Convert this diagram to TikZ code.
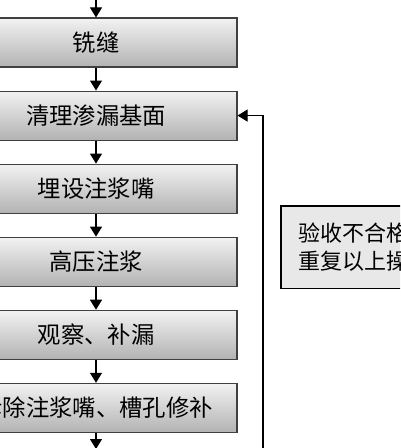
\documentclass[tikz,border=0pt]{standalone}
\usepackage{fontspec}
\newfontfamily\cjk{Noto Sans CJK SC}
\usetikzlibrary{arrows.meta,positioning}

\begin{document}
\begin{tikzpicture}[
    x=0.75pt, y=-0.75pt,
    node distance=17.25pt,
    box/.style={rectangle, draw=black!75, line width=0.8pt, top color=white!95!black, bottom color=black!30,
        minimum width=211.5pt, minimum height=36.75pt, align=center, font=\fontsize{17.5}{21}\cjk},
    note/.style={rectangle, draw=black, line width=1.2pt, fill=black!9, anchor=north west,
        minimum height=61.5pt, inner sep=13pt, align=left, font=\fontsize{16.5}{20.5}\cjk},
    arrow/.style={-{Triangle[width=9pt,length=7.5pt]}, line width=0.8pt}
]
\useasboundingbox (0,0) rectangle (400,448);
\clip (0,0) rectangle (400,448);

\node[box] (mill) at (96,42.5) {铣缝};
\node[box, below=of mill] (clean) {清理渗漏基面};
\node[box, below=of clean] (nozzle) {埋设注浆嘴};
\node[box, below=of nozzle] (grout) {高压注浆};
\node[box, below=of grout] (check) {观察、补漏};
\node[box, below=of check] (remove) {拆除注浆嘴、槽孔修补};
\node[note] (redo) at (280,205) {验收不合格，\\重复以上操作};

\coordinate (in) at (96,-10);
\coordinate (out) at (96,449);
\coordinate (back) at (263,470);

\draw[arrow] (in) -- (mill);
\draw[arrow] (mill) -- (clean);
\draw[arrow] (clean) -- (nozzle);
\draw[arrow] (nozzle) -- (grout);
\draw[arrow] (grout) -- (check);
\draw[arrow] (check) -- (remove);
\draw[arrow] (remove) -- (out);
\draw[arrow] (back) |- (clean.east);
\end{tikzpicture}
\end{document}
